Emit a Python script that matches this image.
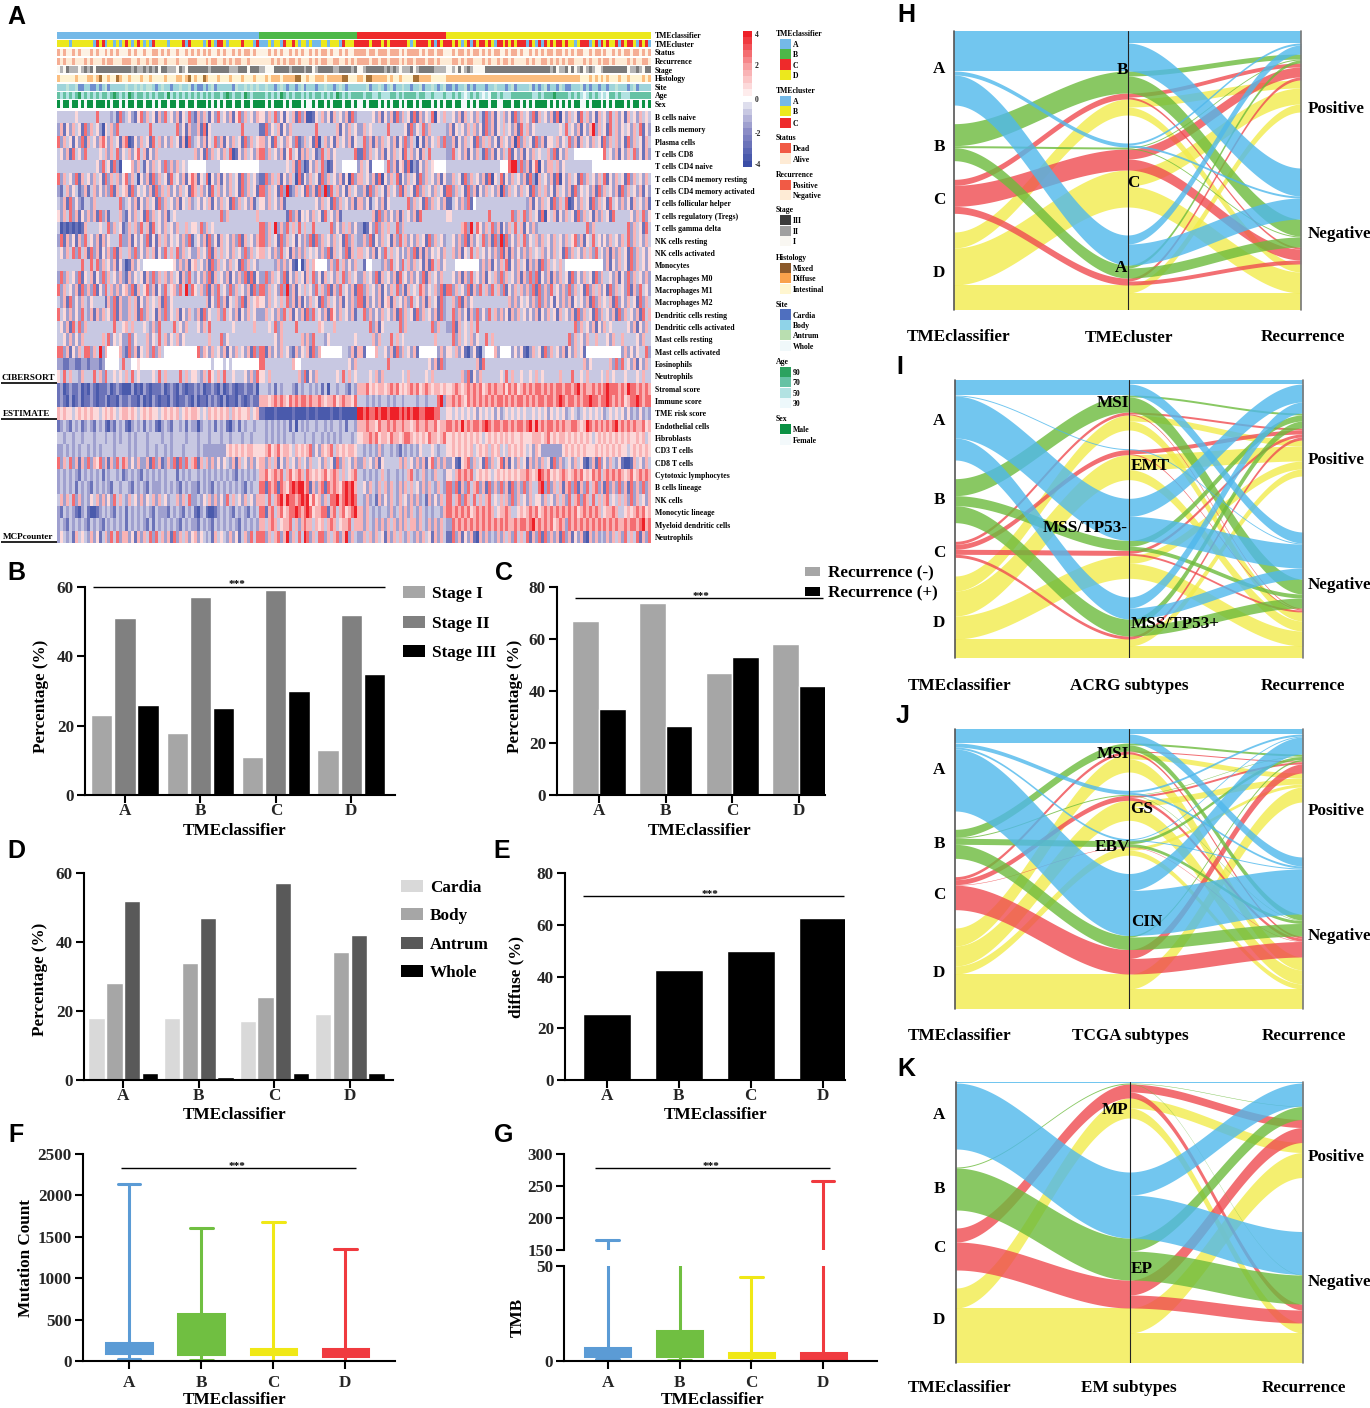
import numpy as np, pandas as pd, seaborn as sns, matplotlib
matplotlib.use("Agg")
import matplotlib.pyplot as plt
from matplotlib.colors import ListedColormap, LinearSegmentedColormap
from matplotlib.patches import Rectangle

W, H = 1370, 1408
classes = ["A", "B", "C", "D"]

# ---------- panel A: estimated by eye, one string per row, groups A|B|C|D
cell_levels = [-3.4, -2.5, -1.6, -0.6, 0.0, 0.6, 1.4, 2.8, 3.8]
cibersort_names = ["B cells naive","B cells memory","Plasma cells","T cells CD8","T cells CD4 naive",
 "T cells CD4 memory resting","T cells CD4 memory activated","T cells follicular helper",
 "T cells regulatory (Tregs)","T cells gamma delta","NK cells resting","NK cells activated","Monocytes",
 "Macrophages M0","Macrophages M1","Macrophages M2","Dendritic cells resting","Dendritic cells activated",
 "Mast cells resting","Mast cells activated","Eosinophils","Neutrophils"]
cibersort_rows = [
"33333353333337333323172635215726351627352615372516263152735261572635261|5263725153617260153625163526172|33335261526172635171625370536|35261635263172615362517263527163526170526351736251635273625163526353",
"26152635172635205362733333333333733333333725162526170533333333337333333|17253615263333333373333336152635|26353333373333351725372633333|261535263625172615363526173625333333335373526152682635173625352637152",
"72635152716352675263516270152635173625263516072635261537261526351726352|62517352652712635170362516352615|37261626352615272630516253627|2615263517263625163526072635172615362537261635263517263625172635163",
"35261735273333536263725136257361526333333333333362517263526370152635262|72635261573516263512736253333337|17263526152635173625163733333|27352615263172615263715261526353362715263344444444447352615263725162",
"33333333333335273517204444626315263527262635344444443333344444444444444|33333333536172015263720153344444|26351444437261526170215263544444|3333333333333333344478827261570526362533333333344444444444444444444",
"72635271635263517263625172630526172635173526157261537052615263517263526|17263615263071526351726352615072|63526170526371526351726352615|26351726352617053715263526172063526170526351726352637152635172635263",
"21362531261362526271635261725352617263625263517263625173625263517263515|72635172812635172617281736251635|26172635163527163517263526351|72635172615263526072635263517263625163526172535261726352617263526152",
"32617252133263333333372535261526351726352615362735253615263517263526133|52635261333333333352635172635261|62513526153333337263517263526|13526271433333333333333333261526351726370152635172635173526251635261",
"52637261526261726133362715263517263526135333333333333333372633333333362|33333333172615352635173526133333|33336172625261635261733333333|53333333333337333333372637263517053615263517263516263517333335263725",
"30101010163333533726351726362736173526352633635253726353333333333333333|72638262736373633733333725263625|20152726363372633333333333333|33336728375263726152637361526233333333333333337263333333333372635173",
"27162516273526162533372526152527151636253526271635261725163526271635263|72635172635152627172635263517263|26271526351627362526351726352|35262716253726172817252637253626352635263572615373525263526372635263",
"35263727361726152627163536272526361527363726352726352716363526352726352|63526273516262635352627163527163|63526152736352526271616253526|36261537363525262716162526263536252635172635263627352616263517263525",
"33333333733737263526152101625344444444445262615263526172635263517263526|33332626251040263644442627362526|31443332627352736263516173625|33444444442626152637152635162617263536344444444444442615263517263525",
"27263527153615272635262716253516272636263516273625262716352615262717153|27263527152635163725163526372635|26352716352617352625271635263|35261627352615362726352616272715261626351725263517263352615272635262",
"72635261726271527362625162716357261527356273827153627162735272635261726|72635272826153635273627162735261|72635261526372616353762536271|72635271627362736271526362627172627352627263517263625172635271627352",
"32617252632533331627162526361526353617253333333333336152726153627163563|52635363726161526351726352615262|71625261561635262735261635172|36271625333333333333626253526272625152626153526172635361725263517263",
"73526252732616263527162526361726351627253615263526172533627352615263526|26352627361526172735261752635261|37262526352617263517263526172|37262516272527362625162635252615263516352617263517263526172635261736",
"35261737263333333337335263633353262733337352633335263733333335333333633|33537263333733333336533363333333|33372615333337263333333372633|27163536373333333333333333333333333333333372635261526353333352615263",
"33526252633333363725352627253336253736253625333333333633372533333333333|33335263333336262733325333333335|33336263337363533333333336333|37263536253373633333333333333333333333337263526336333526336333352633",
"77261526377263826444462617261536272634444444444447265263526152635261726|71625263521625361726444444433261|61444633526172635261444444262|53625102510344462444425251026351726352615263514444444444442625253372",
"22112211221222124444437333445444444444444444444444444434443434444444444|73333333336443333333333333333526|33333333373333333333333526172|33333333361733333333333333333333333333333333362533333362727352615263",
"53736332633373627335353363735333353736333373635353263753637335333526273|53633333333362715263333335373635|33353626333333536333335363333|33336271526333333537363353353635333336333733536333353635333533353633",
]
estimate_names = ["Stromal score","Immune score","TME risk score"]
estimate_rows = [
"12012112010210111201210100201021011120121021011021201121020121011211201|33231323332132332323130332332132|66756566567675656767567656656|56765676767567676675767567676776767677677678676676767877767687767676",
"12102012011210112011021012110201021011021011210120110212102011021012110|66567676576767767667656675676657|33232323323233233332332333782|67676576767676767767676776767677677678767767677877677876767567787677",
"65655356565655356565356565653565655356565635656565353656565636565563565|10001000001000010010000100100000|87877878878887878788778887733|53535353525353525235353535335353525353523532353535352353535252325232",
]
mcp_names = ["Endothelial cells","Fibroblasts","CD3 T cells","CD8 T cells","Cytotoxic lymphocytes","B cells lineage",
 "NK cells","Monocytic lineage","Myeloid dendritic cells","Neutrophils"]
mcp_rows = [
"12321323123213231021323210232313231023213323132320233231323102313233231|32323232313032323323323233231332|66766576676766766567667667566|76768676776787677677676776786867677676766776568767676767867676766756",
"33233233233323332332323332323332333323323333233232333233323323332332333|32323232332333233233232323233323|56676756657665677656565766567|56565656565356565656565565556665675656656565656535656565656565565635",
"22323232332323233332333232323332332332323332333232322222222565656566556|56756756653656567252656736565665|32323262332321323232533353233|56565656356563656353656565352652222222565656565556565656565535656565",
"72637261627265726162737262526226172612627172736271636262525326163526252|62636152635263526335263517263526|26352615333336263526261572626|25105672635172635716152635162626351726235263510261725263251001635263",
"23232321323232313233231323232132323232333132323132323232323232132323232|67567673675676376565675676363567|32323236323323236732362326332|53676767356565356565656566765687675656765676756576736767676567567676",
"23232313232132323213323232132321322232323213232321323213232323232132332|71767176578788671626717676578786|35263263626326263635262632632|72716273672617262726172627263378272636167271627367261726272617262726",
"36263726232536262527363526352625362635233626372623253626252736352635262|63736786877678785756263778678787|32623162526326352626231625263|73672763736367353636272635263552635263627367276373636735363627263526",
"21323210231001232321323213232323213222132321323210231001232321323213232|71673675677876787566771673675678|62632323326236262632632323326|76767675676767635667633565676756767676767675676767635667633565676756",
"23213232321323213232323213232321313232323213232321323213232323213232323|63676356673626766365636763566736|62632626263626263662632626263|27676767676767676767667677678676767567627676767676767676766767767867",
"25323163532625136273726362516263727362617263625162532316353262513627372|72636726826373872637726367268263|26362635162636326326263516263|17261526106262326263627363716271726261726152610626232626362736371627",
]

# annotation tracks: indices into each track's legend colours
track_names = ["TMEcluster","Status","Recurrence","Stage","Histology","Site","Age","Sex"]
track_rows = [
"11110111111102120110101121012101021111011112021011101210221011112111021|00101102112101101000110111021112|22212221212222221012222120212|21210120212212102212121222021020212122121101222012021211202122102120",
"01011010111010110101011010101101100101011011010110101011010110101001010|11010101101010110101001011010110|00100100010001010000101001001|10100101001010100110100101101010100100101010011010010110101001001010",
"01011011101011101001110100110110100110111011100101110100110101001101110|11101010100101110101001100110101|00010010010001010010001001011|10010100111010110100101111010110010101010011101011010010111101011001",
"01021110121202222222222122121121212022111021022222222122222211122202222|10002222212222122012222211222212|01222222121210111201222221111|01020121000022222222222222222222221201120201201210012222222201121022",
"10000010001101200100210001000100100001000110120010021000100010001000100|01011101111220010011101111122000|10221111101001000022111100000|11111111111111111111111111111111111111111111000101010100010010000101",
"22212213322332321322222312212121123212232212213323323213222223122121211|21223212322321322232212232123222|22132212321322122322132212321|32322132322232212223213222213232132231233222132322322322122232132222",
"21212123121212122123212213212212121221312121212312121212212321221321221|21212132121221212122121213212122|21221121112212122221221121112|12121012121010221211122222221121222322221212101212101022121112222222",
"10110110101101110101101101101101101011011011011101110101010110110110110|10101110101110100101101011101101|01011101010110101101011101010|10110010101110110011101101010111101010101011001011101010111010110101",
]
track_colors = [
 ["#74B9E8","#ECE81D","#EE2A2B"], ["#F5AE94","#FDF2E4","#F15A45"], ["#F5AE94","#FEEBD5"],
 ["#FAF8F2","#B5B5B5","#7A7A7A"], ["#FFF3D2","#FBBE80","#A87338"],
 ["#F0F8FA","#BFE3D8","#9ED4DA","#6F8FCF"], ["#EDF8FB","#B2E2E2","#66C2A4","#2CA25F"], ["#F3F9FB","#0A9144"]]
group_cols = [68, 33, 30, 69]
class_colors_a = ["#74B9E8", "#4DB848", "#EE2A2B", "#ECE81D"]

legend_groups = [
 ("TMEclassifier",33,[("A","#74B9E8",44),("B","#4DB848",54),("C","#EE2A2B",64.5),("D","#ECE81D",75)]),
 ("TMEcluster",90,[("A","#74B9E8",101),("B","#ECE81D",111),("C","#EE2A2B",123)]),
 ("Status",137,[("Dead","#F15A45",148),("Alive","#FEEBD5",158.7)]),
 ("Recurrence",174,[("Positive","#F15A45",185),("Negative","#FEEBD5",195)]),
 ("Stage",209,[("III","#3B3B3B",220),("II","#A0A0A0",231),("I","#F9F7F2",241)]),
 ("Histology",257,[("Mixed","#8C5A2B",268),("Diffuse","#F9A24C",278),("Intestinal","#FFF6D0",289)]),
 ("Site",304,[("Cardia","#4F6FBF",314.5),("Body","#8FD3E8",325),("Antrum","#B9DEB0",335),("Whole","#F0F8FA",346)]),
 ("Age",361,[("90","#2CA25F",372),("70","#66C2A4",382),("50","#B2E2E2",393),("30","#EDF8FB",403)]),
 ("Sex",418,[("Male","#0A9144",429),("Female","#F3F9FB",440)]),
]

# ---------- bars
stage_labels = ["Stage I","Stage II","Stage III"]
stage_vals = [[23,18,11,13],[51,57,59,52],[26,25,30,35]]
rec_labels = ["Recurrence (-)","Recurrence (+)"]
rec_vals = [[67,74,47,58],[33,26.5,53,42]]
site_labels = ["Cardia","Body","Antrum","Whole"]
site_vals = [[18,18,17,19],[28,34,24,37],[52,47,57,42],[2,1,2,2]]
diffuse_vals = [25.5,42.5,50,62.5]

# ---------- boxes: low, q1, median, q3, high
box_colors = ["#5B9BD5","#70BF41","#F0E816","#F03A3F"]
mutation_A = [30,100,150,215,2140]
mutation_B = [15,90,250,565,1610]
mutation_C = [5,80,100,145,1680]
mutation_D = [5,65,90,145,1350]
tmb_A = [0.8,2.6,4,6.6,165]
tmb_B = [0.5,2.6,6,15.6,52]
tmb_C = [0.2,2.1,3,4.1,44]
tmb_D = [0.2,1.7,3,4.1,258]

# ---------- alluvial: flows[mid][class] = (positive, negative)
h_mids = ["B","C","A"]
h_flows = [[(12,28),(5,17),(4,2),(8,8)],[(2,2),(1,1),(10,11),(16,21)],[(9,21),(3,10),(3,4),(8,17)]]
i_mids = ["MSI","EMT","MSS/TP53-","MSS/TP53+"]
i_flows = [[(4,11),(2,15),(2,1),(6,9)],[(0,1),(0,0),(4,1),(15,10)],[(18,24),(6,4),(3,2),(8,15)],[(11,11),(7,10),(3,0),(7,12)]]
j_mids = ["MSI","GS","EBV","CIN"]
j_flows = [[(5,9),(2,6),(1,2),(5,13)],[(2,2),(.5,.5),(2,3),(6,14)],[(1,1),(3,3),(0,.5),(3,5)],[(17,45),(1.5,12.5),(9,15.5),(15,20)]]
k_mids = ["MP","EP"]
k_flows = [[(1,0),(.5,.5),(8,6),(10,10)],[(23,43),(13,29),(15,13),(25,30)]]
flow_colors = ["#4FB8EC","#6CBB3C","#EF4B50","#F2EC4C"]

sns.set_style("ticks")
plt.rcParams["font.family"] = ["Liberation Serif", "DejaVu Serif"]
plt.rcParams["font.weight"] = "bold"
plt.rcParams["axes.labelweight"] = "bold"
fig = plt.figure(figsize=(W/100, H/100), dpi=100)

def px_ax(x0, y0, x1, y1):
    return fig.add_axes([x0/W, 1-y1/H, (x1-x0)/W, (y1-y0)/H])

ov = fig.add_axes([0,0,1,1], zorder=20)
ov.set_xlim(0,W); ov.set_ylim(H,0); ov.axis("off"); ov.patch.set_alpha(0)

def T(x, y, s, size=12.3, ha="center", va="center", **k):
    k.setdefault("fontweight","bold")
    dy = k.pop("dy", 2 if size > 9 else 1)
    ov.text(x, y+dy, s, fontsize=size, ha=ha, va=va, color=k.pop("color","black"), **k)

def L(x0, y0, x1, y1, lw=1.0, color="black"):
    ov.plot([x0,x1],[y0,y1],color=color,lw=lw,solid_capstyle="butt")

for s,x,y in [("A",16,17),("B",16,573),("C",504,573),("D",16,851),("E",502,851),("F",16,1135),
              ("G",504,1135),("H",906,15),("I",900,367),("J",903,716),("K",906,1069)]:
    T(x,y,s,size=18,family="Liberation Sans",dy=0)

# ---------- panel A
def parse(row):
    out = []
    for part,g in zip(row.split("|"),group_cols):
        arr = np.array([int(c) for c in part])
        out.append(arr[np.arange(g)*len(arr)//g])
    return np.concatenate(out)

cmap = LinearSegmentedColormap.from_list("tme",[(0,"#3A4DA6"),(.25,"#8B8CC6"),(.44,"#D8D8EA"),(.5,"#FFFFFF"),
                                               (.75,"#F8A0A2"),(1,"#EE2028")],N=21)
all_rows = cibersort_rows + estimate_rows + mcp_rows
all_names = cibersort_names + estimate_names + mcp_names
levels = np.array(cell_levels)
mat = pd.DataFrame(levels[np.array([parse(r) for r in all_rows])], index=all_names)
ax = px_ax(57,111,651,543)
cax = px_ax(743,31,752,167)
sns.heatmap(mat, ax=ax, cmap=cmap, vmin=-4, vmax=4, cbar_ax=cax, xticklabels=False, yticklabels=False,
            cbar_kws={"ticks":[-4,-2,0,2,4]})
ax.set_ylabel(""); ax.set_xlabel("")
cax.tick_params(length=0, labelsize=5.5, pad=2)
cax.set_yticks([-3.8,-2,0,2,3.8]); cax.set_yticklabels(["-4","-2","0","2","4"])
for i,n in enumerate(all_names):
    T(655, 117+i*12.35, n, size=5.6, ha="left")

cls_row = np.repeat(np.arange(4), group_cols)
ta = px_ax(57,32,651,39)
sns.heatmap(pd.DataFrame([cls_row]), ax=ta, cmap=ListedColormap(class_colors_a), vmin=-.5, vmax=3.5, cbar=False,
            xticklabels=False, yticklabels=False)
T(655,34.5,"TMEclassifier",size=5.6,ha="left")
track_y = [(40,47),(49,56),(58,65),(66,73),(75,82),(84,91),(92,99),(100,108)]
track_lab_y = [44,52,60.5,70,78,87,95,104]
for name,row,cols,(y0,y1),ly in zip(track_names,track_rows,track_colors,track_y,track_lab_y):
    t = px_ax(57,y0,651,y1)
    sns.heatmap(pd.DataFrame([parse(row)]), ax=t, cmap=ListedColormap(cols), vmin=-.5, vmax=len(cols)-.5,
                cbar=False, xticklabels=False, yticklabels=False)
    T(655,ly,name,size=5.6,ha="left")

for title,ty,items in legend_groups:
    T(776,ty,title,size=5.6,ha="left")
    for lab,col,y in items:
        ov.add_patch(Rectangle((780,y-5.3),11,10.6,color=col,lw=0))
        T(793,y,lab,size=5.6,ha="left")

for s,y0,x0 in [("CIBERSORT",377,1),("ESTIMATE",413,3),("MCPcounter",536,3)]:
    T(x0,y0,s,size=6.6,ha="left")
    L(1,y0+6,57,y0+6,lw=1.2)

# ---------- bars
def style(ax, yt, fs=12.3, xpad=1):
    sns.despine(ax=ax)
    for sp in ("left","bottom"):
        ax.spines[sp].set_linewidth(1.5); ax.spines[sp].set_color("black")
    ax.set_yticks(yt)
    ax.tick_params(width=1.5, length=6, labelsize=fs, pad=2, color="black")
    ax.tick_params(axis="x", pad=xpad)
    ax.set_xlabel(""); ax.set_ylabel("")
    ax.patch.set_alpha(0)

def bars(box, labels, vals, cols, ymax, yt, xlim, width, gap):
    df = pd.DataFrame([(c,l,v) for l,row in zip(labels,vals) for c,v in zip(classes,row)],columns=["c","s","v"])
    ax = px_ax(*box)
    sns.barplot(data=df,x="c",y="v",hue="s",palette=cols,width=width,gap=gap,errorbar=None,saturation=1,
                legend=False,ax=ax)
    ax.set_ylim(0,ymax); ax.set_xlim(*xlim)
    style(ax,yt,xpad=0)
    return ax

bars((85,587,395,795),stage_labels,stage_vals,["#A6A6A6","#808080","#000000"],60,[0,20,40,60],(-.53,3.58),.92,.08)
bars((557,587,825,795),rec_labels,rec_vals,["#A6A6A6","#000000"],80,[0,20,40,60,80],(-.63,3.39),.8,0)
bars((84,873,393,1080),site_labels,site_vals,["#D9D9D9","#A6A6A6","#595959","#000000"],60,[0,20,40,60],(-.52,3.57),.94,.08)
bars((565,873,845,1080),["diffuse"],[diffuse_vals],["#000000"],80,[0,20,40,60,80],(-.58,3.31),.67,0)

for s,x,ys in [(stage_labels,403,[592,622,651]),(site_labels,401,[886,914,943,971])]:
    cols = ["#A6A6A6","#808080","#000000"] if len(s)==3 else ["#D9D9D9","#A6A6A6","#595959","#000000"]
    for lab,y,c in zip(s,ys,cols):
        ov.add_patch(Rectangle((x,y-6),22,12,color=c,lw=0))
        T(x+29,y,lab,ha="left")
for lab,y,c in zip(rec_labels,[571,591],["#A6A6A6","#000000"]):
    ov.add_patch(Rectangle((805,y-4.5),15,9,color=c,lw=0))
    T(828,y,lab,ha="left")

for x0,x1,y,cx in [(93,385,587,237),(575,823,598,701),(583,844,896,710),(121,356,1168,237),(595,830,1168,711)]:
    L(x0,y,x1,y,lw=1.0)
    T(cx,y-3,"***",size=8)

for x,y,s in [(41,696,"Percentage (%)"),(515,696,"Percentage (%)"),(40,979,"Percentage (%)"),(516,977,"diffuse (%)"),
              (26,1258,"Mutation Count"),(518,1317,"TMB")]:
    T(x,y,s,rotation=90,dy=0)
for x,y in [(235,829),(700,829),(235,1113),(716,1113),(235,1398),(713,1398)]:
    T(x,y,"TMEclassifier")

# ---------- boxes
def boxes(ax, arrays):
    for c,arr,col in zip(classes,arrays,box_colors):
        df = pd.DataFrame({"c":[c]*5,"v":arr})
        sns.boxplot(data=df,x="c",y="v",order=classes,color=col,linecolor=col,saturation=1,width=.63,
                    whis=(0,100),linewidth=2.2,fliersize=0,ax=ax)

axF = px_ax(83,1154,395,1361)
boxes(axF,[mutation_A,mutation_B,mutation_C,mutation_D])
axF.set_ylim(0,2500); axF.set_xlim(-.64,3.69)
style(axF,[0,500,1000,1500,2000,2500],xpad=4)

tmb = [tmb_A,tmb_B,tmb_C,tmb_D]
axG = px_ax(564,1266,877,1361)
boxes(axG,tmb)
axG.set_ylim(0,50); axG.set_xlim(-.61,3.75)
style(axG,[0,50],xpad=4)
axU = px_ax(564,1154,877,1250)
boxes(axU,tmb)
axU.set_ylim(150,300); axU.set_xlim(-.61,3.75)
style(axU,[150,200,250,300])
axU.spines["bottom"].set_visible(False)
axU.set_xticks([]); axU.set_xlabel("")

# ---------- alluvial
def smooth(t):
    return 3*t**2 - 2*t**3

def ribbons(ax, a, b, x0):
    t = np.linspace(0,1,80)
    for k in range(4)[::-1]:
        for (y0,y1),(z0,z1) in zip(a[k],b[k]):
            if y1-y0 <= 0: continue
            top = y0+(z0-y0)*smooth(t); bot = y1+(z1-y1)*smooth(t)
            ax.fill_between(x0+t,top,bot,color=flow_colors[k],alpha=.8,lw=0)

def alluvial(box, flows, left_y, mid_labels, titles, pos_y, neg_y):
    x0,y0,x1,y1 = box
    ax = px_ax(x0,y0,x1,y1)
    H_ = y1-y0
    f = np.array(flows,dtype=float)     # mid, class, rec
    lf = f.sum(axis=2)
    nm = f.shape[0]
    gl = (H_-lf.sum())/3; gm = (H_-lf.sum())/(nm-1); gr = H_-lf.sum()
    A = [[] for _ in range(4)]; y = 0
    for c in range(4):
        for m in range(nm):
            A[c].append((y,y+lf[m,c])); y += lf[m,c]
        y += gl
    B = [[None]*nm for _ in range(4)]; y = 0
    for m in range(nm):
        for c in range(4):
            B[c][m] = (y,y+lf[m,c]); y += lf[m,c]
        y += gm
    ribbons(ax,A,B,0)
    C = [[] for _ in range(4)]; D = [[] for _ in range(4)]
    y = 0
    mid_pos = {}
    for m in range(nm):
        for c in range(4):
            for r in range(2):
                mid_pos[(m,c,r)] = (y,y+f[m,c,r]); y += f[m,c,r]
        y += gm
    y = 0
    for r in range(2):
        for c in range(4):
            for m in range(nm):
                C[c].append(mid_pos[(m,c,r)])
                D[c].append((y,y+f[m,c,r])); y += f[m,c,r]
        y += gr
    ribbons(ax,C,D,1)
    ax.set_xlim(0,2); ax.set_ylim(H_,0); ax.axis("off")
    ax.plot([0,0],[0,H_],color="#555555",lw=1.2,clip_on=False)
    ax.plot([1,1],[0,H_],color="#222222",lw=.8)
    ax.plot([2,2],[0,H_],color="#777777",lw=1.2,clip_on=False)
    for c,yy in zip(classes,left_y):
        T(939,yy,c)
    for s,xx,yy in mid_labels:
        T(xx,yy,s)
    for s,xx,yy in titles:
        T(xx,yy,s)
    T(1308,pos_y,"Positive",ha="left"); T(1308,neg_y,"Negative",ha="left")

alluvial((954,31,1301,310),h_flows,[67,145,198,271],
         [(h_mids[0],1122,68),(h_mids[1],1133,181),(h_mids[2],1121,266)],
         [("TMEclassifier",959,335),("TMEcluster",1129,336),("Recurrence",1303,335)],107,232)
alluvial((955,380,1303,658),i_flows,[419,498,551,621],
         [(i_mids[0],1113,401),(i_mids[1],1150,464),(i_mids[2],1085,526),(i_mids[3],1175,622)],
         [("TMEclassifier",960,684),("ACRG subtypes",1129,684),("Recurrence",1303,684)],458,583)
alluvial((955,729,1303,1009),j_flows,[768,842,893,971],
         [(j_mids[0],1113,752),(j_mids[1],1142,807),(j_mids[2],1112,845),(j_mids[3],1147,920)],
         [("TMEclassifier",960,1034),("TCGA subtypes",1130,1034),("Recurrence",1304,1034)],809,934)
alluvial((956,1082,1303,1363),k_flows,[1113,1187,1246,1318],
         [(k_mids[0],1115,1108),(k_mids[1],1142,1267)],
         [("TMEclassifier",960,1386),("EM subtypes",1129,1386),("Recurrence",1304,1386)],1155,1280)

fig.savefig("out.png",dpi=100)
